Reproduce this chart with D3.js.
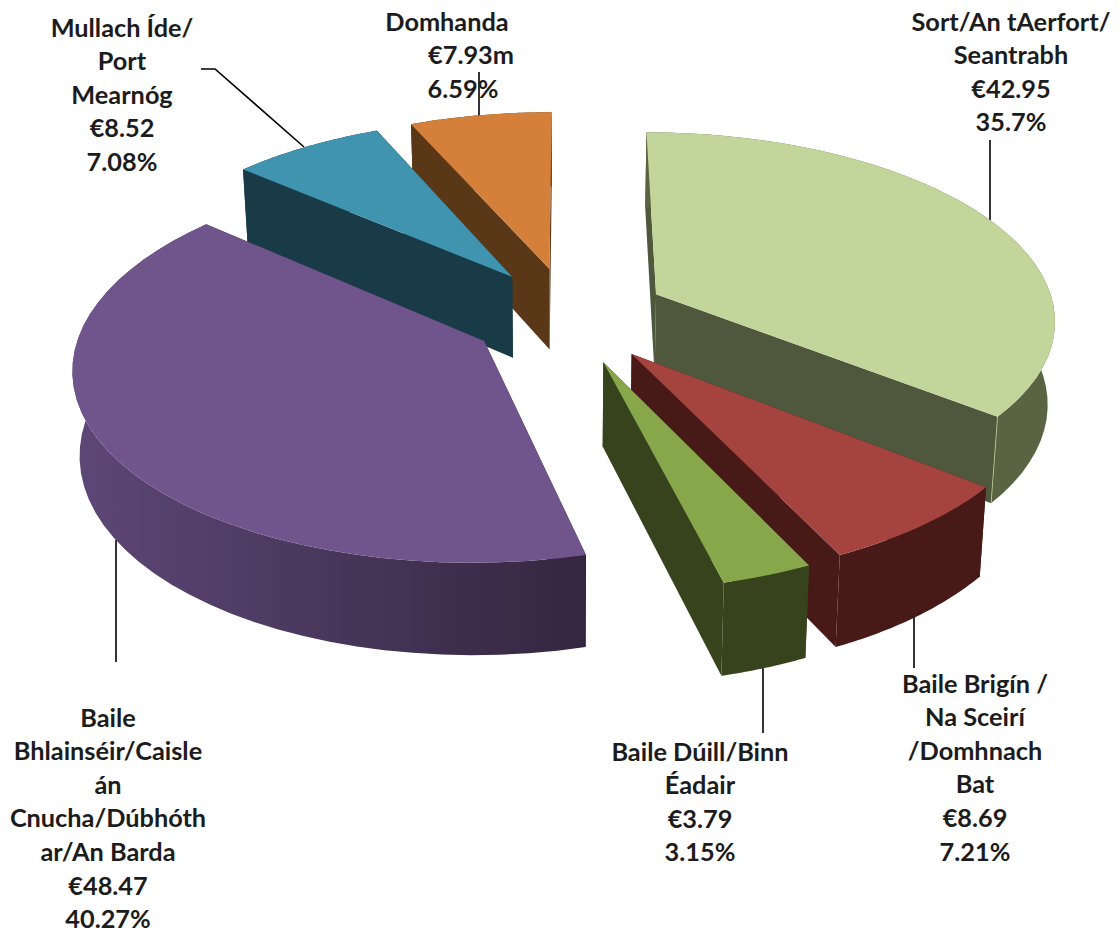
<!DOCTYPE html>
<html><head><meta charset="utf-8">
<script src="https://cdn.jsdelivr.net/npm/d3@7"></script>
<style>html,body{margin:0;background:#fff}svg{display:block}</style></head><body>
<svg id="c" width="1119" height="932"></svg>
<script>
const categories=["Sort/An tAerfort/Seantrabh","Baile Brigín / Na Sceirí /Domhnach Bat","Baile Dúill/Binn Éadair","Baile Bhlainséir/Caisleán Cnucha/Dúbhóthar/An Barda","Mullach Íde/Port Mearnóg","Domhanda"];
const amounts=[42.95,8.69,3.79,48.47,8.52,7.93];
const percents=[35.7,7.21,3.15,40.27,7.08,6.59];
const topColors=["#c2d59a","#a5443f","#88a64a","#70558c","#4094af","#d5803a"];
const wallColors=["#5a6443","#471a18","#36431c","#5d4777","#193b48","#5a3716"];
const sideColors=["#4f573d","#471a18","#36431c","#34263f","#193b48","#5a3716"];
const labelLines=[
 ["Sort/An tAerfort/","Seantrabh","€42.95","35.7%"],
 ["Baile Brigín /","Na Sceirí","/Domhnach","Bat","€8.69","7.21%"],
 ["Baile Dúill/Binn","Éadair","€3.79","3.15%"],
 ["Baile","Bhlainséir/Caisle","án","Cnucha/Dúbhóth","ar/An Barda","€48.47","40.27%"],
 ["Mullach Íde/","Port","Mearnóg","€8.52","7.08%"],
 ["Domhanda","€7.93m","6.59%"]];
const labelCenters=[[1011],[975],[700],[108],[122],[447,471,463]];
const labelTops=[22,684,752,718,28,22];
const labelStep=33.6;
const leaders=[[[990,140],[990,220]],[[914,612],[914,668]],[[763,664],[763,733]],[[116,540],[116,662]],[[201,69],[215,69],[304,147]],[[479,72],[479,116]]];
const drawOrder=[5,4,0,3,1,2];

const cx=569,cy=315,Rx=400,Ry=187,persp=0.125,explodeX=0.245,explodeY=0.26;
const dropScale=d3.scaleLinear().domain([130,553]).range([75,92]);
const vanishX=d3.scaleLinear().domain([560,1000]).range([0,-6.5]);
const project=(X,Y)=>{const w=1/(1-persp*Y);return [cx+Rx*X*w,cy+Ry*Y*w];};
const lower=([x,y])=>[x+vanishX(x),y+dropScale(y)];

const svg=d3.select("#c");
const defs=svg.append("defs");
const pie=d3.pie().sort(null).value(d=>d)(percents);
const line=d3.line();
const closed=pts=>line(pts)+"Z";

leaders.forEach(l=>svg.append("path").attr("d",line(l)).attr("fill","none").attr("stroke","#000").attr("stroke-width",1.6));

labelLines.forEach((ls,i)=>{
  ls.forEach((t,j)=>{
    const c=labelCenters[i];
    svg.append("text").attr("x",c[j]??c[0]).attr("y",labelTops[i]+j*labelStep+8.5)
      .attr("text-anchor","middle").attr("font-family","Lato").attr("font-weight",700).attr("font-size",25.3).attr("fill","#1c1c1c").text(t);
  });
});

drawOrder.forEach(i=>{
  const a=pie[i], mid=(a.startAngle+a.endAngle)/2;
  const ex=Math.sin(mid)*explodeX, ey=-Math.cos(mid)*explodeY;
  const apex=project(ex,ey);
  const arc=d3.range(0,41).map(k=>{
    const t=a.startAngle+(a.endAngle-a.startAngle)*k/40;
    return project(ex+Math.sin(t),ey-Math.cos(t));
  });
  const arcLow=arc.map(lower), apexLow=lower(apex);
  let wallFill=wallColors[i];
  if(i===3){
    const g=defs.append("linearGradient").attr("id","purpleWall").attr("gradientUnits","userSpaceOnUse")
      .attr("x1",d3.min(arc,p=>p[0])).attr("x2",d3.max(arc,p=>p[0])).attr("y1",0).attr("y2",0);
    g.append("stop").attr("offset",0).attr("stop-color",wallColors[i]);
    g.append("stop").attr("offset",1).attr("stop-color",sideColors[i]);
    wallFill="url(#purpleWall)";
  }
  const side=sideColors[i];
  svg.append("path").attr("d",closed([apex,arc[0],arcLow[0],apexLow])).attr("fill",side);
  svg.append("path").attr("d",closed([apex,arc[40],arcLow[40],apexLow])).attr("fill",side);
  svg.append("path").attr("d",closed([...arc,...arcLow.slice().reverse()])).attr("fill",wallFill);
  if(i===0) svg.append("path").attr("d",line([arc[40],arcLow[40]])).attr("stroke",topColors[i]).attr("stroke-opacity",0.7).attr("fill","none");
  svg.append("path").attr("d",closed([apex,...arc])).attr("fill",topColors[i]);
});
</script></body></html>
